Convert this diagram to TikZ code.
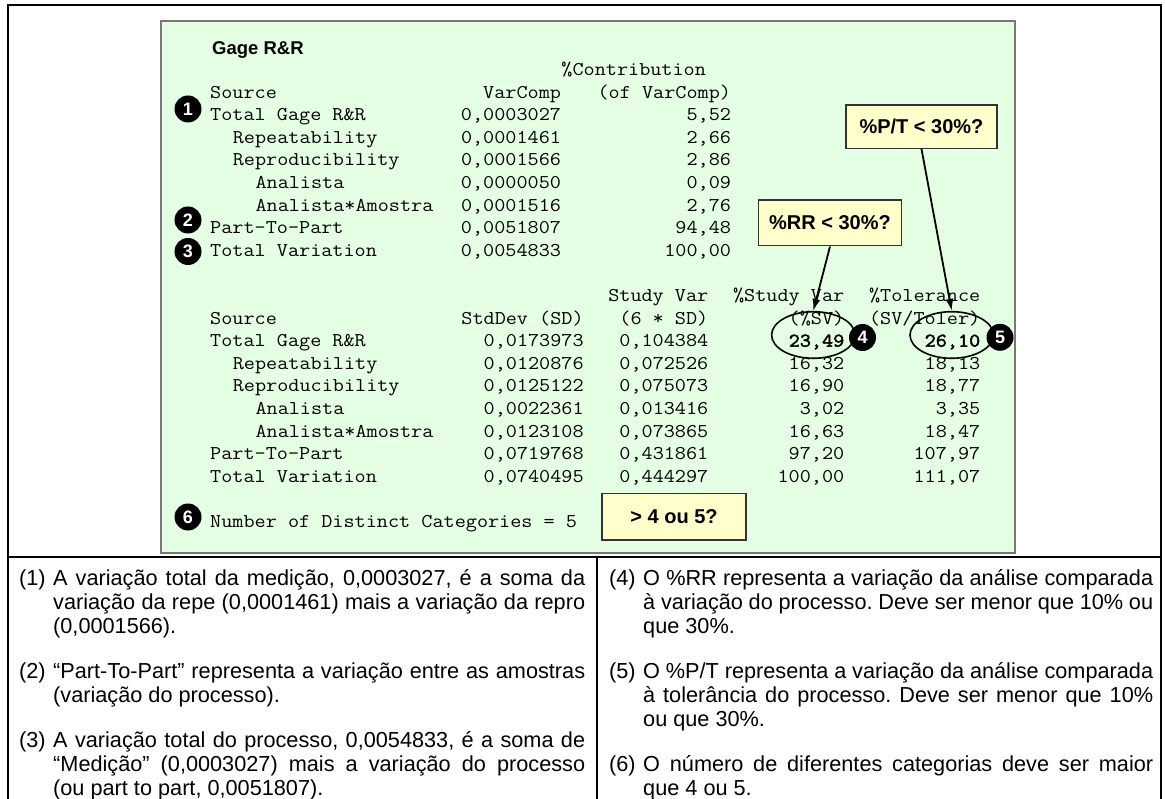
\documentclass[tikz,border=0pt]{standalone}
\usepackage{fontspec}
\setmainfont{Liberation Sans}
\newfontfamily\tabfont[FakeStretch=1.107]{Latin Modern Mono}
\newfontfamily\tabfontb[FakeStretch=1.107,FakeBold=2.2]{Latin Modern Mono}
\usetikzlibrary{arrows.meta,shapes.geometric}
\definecolor{panelgreen}{RGB}{229,255,229}
\definecolor{noteyellow}{RGB}{255,255,204}
\definecolor{paneledge}{RGB}{120,120,120}
\newcommand\colx[1]{210+#1*11.33}
\newcommand\rowy[1]{75.5+#1*22.6}
\newcommand\cL[4]{\node[mono,anchor=base west] (#1) at ({\colx{#2}},{\rowy{#3}}) {#4};}
\newcommand\cR[4]{\node[mono,anchor=base east] (#1) at ({\colx{#2}},{\rowy{#3}}) {#4};}
\newcommand\cRb[4]{\node[monob,anchor=base east] (#1) at ({\colx{#2}},{\rowy{#3}}) {#4};}
\frenchspacing
\begin{document}
\begin{tikzpicture}[x=1pt,y=-1pt,
  mono/.style={font=\tabfont\fontsize{19.5}{22}\selectfont,inner sep=0pt},
  monob/.style={font=\tabfontb\fontsize{19.5}{22}\selectfont,inner sep=0pt},
  numdot/.style={circle,fill=black,text=white,inner sep=0pt,minimum size=27pt,
    font=\bfseries\fontsize{18}{18}\selectfont},
  callout/.style={draw=black!80,line width=1.3pt,fill=noteyellow,inner sep=0pt,
    font=\bfseries\fontsize{20}{20}\selectfont},
  ring/.style={ellipse,draw=black,line width=1.6pt,inner sep=0pt},
  arr/.style={line width=1.8pt,-{Latex[length=12pt,width=8pt]}},
  frameline/.style={line width=2.2pt,black},
  para/.style={font=\frenchspacing\fontsize{21.7}{24}\selectfont,align=justify,inner sep=0pt,anchor=base west},
  plabel/.style={font=\fontsize{21.7}{24}\selectfont,inner sep=0pt,anchor=base west}]
\useasboundingbox (0,0) rectangle (1165,799);
% outer frame
\draw[frameline] (8,810) -- (8,5) -- (1161,5) -- (1161,810);
\draw[frameline] (8,557) -- (1161,557);
\draw[frameline] (597,557) -- (597,810);
% green panel
\draw[draw=paneledge,line width=1.6pt,fill=panelgreen] (161,21) rectangle (1015,553);
% title
\node[font=\bfseries\fontsize{18.5}{18.5}\selectfont,inner sep=0pt,anchor=base west] (title) at (212,54.5) {Gage R\&R};
% table 1
\cL{hcontrib}{31}{0}{\%Contribution}
\cL{hsrca}{0}{1}{Source}
\cR{hvar}{31}{1}{VarComp}
\cR{hofvar}{46}{1}{(of VarComp)}
\cL{a1}{0}{2}{Total Gage R\&R}\cR{a1v}{31}{2}{0,0003027}\cR{a1p}{46}{2}{5,52}
\cL{a2}{2}{3}{Repeatability}\cR{a2v}{31}{3}{0,0001461}\cR{a2p}{46}{3}{2,66}
\cL{a3}{2}{4}{Reproducibility}\cR{a3v}{31}{4}{0,0001566}\cR{a3p}{46}{4}{2,86}
\cL{a4}{4}{5}{Analista}\cR{a4v}{31}{5}{0,0000050}\cR{a4p}{46}{5}{0,09}
\cL{a5}{4}{6}{Analista*Amostra}\cR{a5v}{31}{6}{0,0001516}\cR{a5p}{46}{6}{2,76}
\cL{a6}{0}{7}{Part-To-Part}\cR{a6v}{31}{7}{0,0051807}\cR{a6p}{46}{7}{94,48}
\cL{a7}{0}{8}{Total Variation}\cR{a7v}{31}{8}{0,0054833}\cR{a7p}{46}{8}{100,00}
% table 2
\cR{hsv}{44}{10}{Study Var}\cR{hpsv}{56}{10}{\%Study Var}\cR{htol}{68}{10}{\%Tolerance}
\cL{hsrcb}{0}{11}{Source}\cR{hsd}{33}{11}{StdDev (SD)}\cR{h6sd}{44}{11}{(6 * SD)}\cR{hpct}{56}{11}{(\%SV)}\cR{hsvt}{68}{11}{(SV/Toler)}
\cL{b1}{0}{12}{Total Gage R\&R}\cR{b1s}{33}{12}{0,0173973}\cR{b1v}{44}{12}{0,104384}\cRb{b1p}{56}{12}{23,49}\cRb{b1t}{68}{12}{26,10}
\cL{b2}{2}{13}{Repeatability}\cR{b2s}{33}{13}{0,0120876}\cR{b2v}{44}{13}{0,072526}\cR{b2p}{56}{13}{16,32}\cR{b2t}{68}{13}{18,13}
\cL{b3}{2}{14}{Reproducibility}\cR{b3s}{33}{14}{0,0125122}\cR{b3v}{44}{14}{0,075073}\cR{b3p}{56}{14}{16,90}\cR{b3t}{68}{14}{18,77}
\cL{b4}{4}{15}{Analista}\cR{b4s}{33}{15}{0,0022361}\cR{b4v}{44}{15}{0,013416}\cR{b4p}{56}{15}{3,02}\cR{b4t}{68}{15}{3,35}
\cL{b5}{4}{16}{Analista*Amostra}\cR{b5s}{33}{16}{0,0123108}\cR{b5v}{44}{16}{0,073865}\cR{b5p}{56}{16}{16,63}\cR{b5t}{68}{16}{18,47}
\cL{b6}{0}{17}{Part-To-Part}\cR{b6s}{33}{17}{0,0719768}\cR{b6v}{44}{17}{0,431861}\cR{b6p}{56}{17}{97,20}\cR{b6t}{68}{17}{107,97}
\cL{b7}{0}{18}{Total Variation}\cR{b7s}{33}{18}{0,0740495}\cR{b7v}{44}{18}{0,444297}\cR{b7p}{56}{18}{100,00}\cR{b7t}{68}{18}{111,07}
\cL{ndc}{0}{20}{Number of Distinct Categories = 5}
% numbered dots
\node[numdot] (n1) at (188,109) {1};
\node[numdot] (n2) at (188,220) {2};
\node[numdot] (n3) at (188,251.5) {3};
\node[numdot] (n6) at (188,517) {6};
% rings
\node[ring,minimum width=83.4pt,minimum height=46.6pt] (e4) at (813.3,335) {};
\node[ring,minimum width=83.4pt,minimum height=46.6pt] (e5) at (951.7,335) {};
\node[numdot] (n4) at (862.5,337.5) {4};
\node[numdot] (n5) at (1000,337.3) {5};
% callouts
\node[callout,minimum width=151pt,minimum height=43.3pt] (pt) at (921.5,126.7) {\%P/T < 30\%?};
\node[callout,minimum width=143.4pt,minimum height=45.7pt] (rr) at (830,223) {\%RR < 30\%?};
\node[callout,minimum width=144pt,minimum height=46.7pt] (g4) at (674,516.7) {> 4 ou 5?};
\draw[arr] (rr.south) -- (e4.north);
\draw[arr] (pt.south) -- (e5.north);
% notes left
\node[plabel] (l1) at (19,585.6) {(1)};
\node[para,text width=532pt] (p1) at (53,585.6) {A variação total da medição, 0,0003027, é a soma da\linebreak variação da repe (0,0001461) mais a variação da repro\linebreak (0,0001566).};
\node[plabel] (l2) at (19,678.6) {(2)};
\node[para,text width=532pt] (p2) at (53,678.6) {“Part-To-Part” representa a variação entre as amostras\linebreak (variação do processo).};
\node[plabel] (l3) at (19,747.6) {(3)};
\node[para,text width=532pt] (p3) at (53,747.6) {A variação total do processo, 0,0054833, é a soma de\linebreak “Medição” (0,0003027) mais a variação do processo\linebreak (ou part to part, 0,0051807).};
% notes right
\node[plabel] (l4) at (609,585.6) {(4)};
\node[para,text width=510pt] (p4) at (643,585.6) {O \%RR representa a variação da análise comparada\linebreak à variação do processo. Deve ser menor que 10\% ou\linebreak que 30\%.};
\node[plabel] (l5) at (609,678.6) {(5)};
\node[para,text width=510pt] (p5) at (643,678.6) {O \%P/T representa a variação da análise comparada\linebreak à tolerância do processo. Deve ser menor que 10\%\linebreak ou que 30\%.};
\node[plabel] (l6) at (609,771.6) {(6)};
\node[para,text width=510pt] (p6) at (643,771.6) {O número de diferentes categorias deve ser maior\linebreak que 4 ou 5.};
\end{tikzpicture}
\end{document}
